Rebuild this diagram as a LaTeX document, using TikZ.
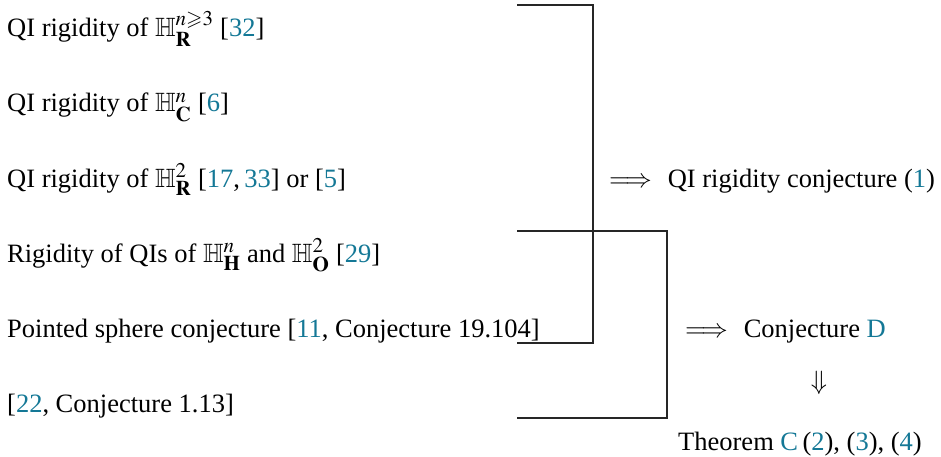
\documentclass[tikz,border=0pt]{standalone}
\usepackage{amssymb}
\usepackage{mathptmx}
\usepackage[no-math]{fontspec}
\setmainfont{Liberation Serif}
\newfontfamily\tms{Liberation Serif}
\DeclareMathSizes{26.5}{26.5}{21}{15}
\definecolor{refc}{RGB}{20,120,150}
\newcommand{\rf}[1]{\textcolor{refc}{#1}}
\begin{document}
\begin{tikzpicture}[x=1pt,y=-1pt,
  txt/.style={anchor=base west,inner sep=0pt,font=\fontsize{26.5}{30}\selectfont\tms},
  brk/.style={draw=black!85,line width=1.2pt}]
\useasboundingbox (0,0) rectangle (941,457);
\node[txt] (r1) at (7,37) {QI rigidity of $\mathbb{H}^{n\geqslant 3}_{\mathbf{R}}$ [\rf{32}]};
\node[txt] (r2) at (7,112) {QI rigidity of $\mathbb{H}^{n}_{\mathbf{C}}$ [\rf{6}]};
\node[txt] (r3) at (7,187) {QI rigidity of $\mathbb{H}^{2}_{\mathbf{R}}$ [\rf{17},\,\rf{33}] or [\rf{5}]};
\node[txt] (r4) at (7,262) {Rigidity of QIs of $\mathbb{H}^{n}_{\mathbf{H}}$ and $\mathbb{H}^{2}_{\mathbf{O}}$ [\rf{29}]};
\node[txt] (r5) at (7,337) {Pointed sphere conjecture [\rf{11}, Conjecture 19.104]};
\node[txt] (r6) at (7,412) {[\rf{22}, Conjecture 1.13]};
\node[txt] (imp1) at (609,187) {$\Longrightarrow$\hspace{0.6em}QI rigidity conjecture (\rf{1})};
\node[txt] (imp2) at (685,337) {$\Longrightarrow$\hspace{0.6em}Conjecture \rf{D}};
\node[txt,anchor=center] (down) at (819,383) {$\Downarrow$};
\node[txt] (thm) at (678,450) {Theorem \rf{C}\,(\rf{2}), (\rf{3}), (\rf{4})};
\coordinate (a1) at (517,5);
\coordinate (a2) at (593,5);
\coordinate (a3) at (593,343);
\coordinate (a4) at (517,343);
\coordinate (b1) at (517,231);
\coordinate (b2) at (667,231);
\coordinate (b3) at (667,418);
\coordinate (b4) at (517,418);
\draw[brk] (a1) -- (a2) -- (a3) -- (a4);
\draw[brk] (b1) -- (b2) -- (b3) -- (b4);
\end{tikzpicture}
\end{document}
